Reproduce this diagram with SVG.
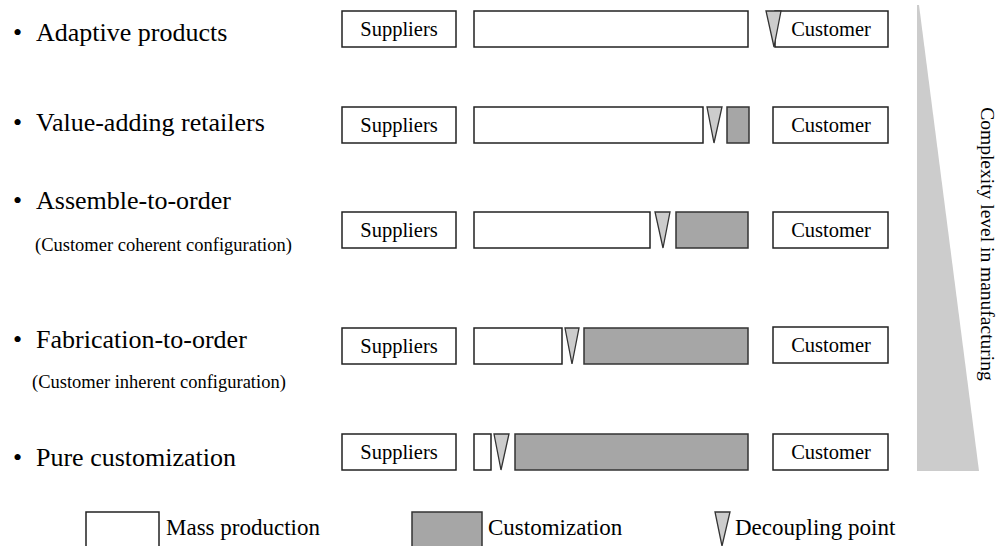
<svg xmlns="http://www.w3.org/2000/svg" width="997" height="546" viewBox="0 0 997 546">
<defs>
<style>
.t{font-family:"Liberation Serif","Times New Roman",serif;fill:#000}
.lbl{font-size:26px}
.sub{font-size:18.5px}
.box{font-size:20.5px;text-anchor:middle}
.leg{font-size:23px}
.w{fill:#fff;stroke:#222;stroke-width:1.5}
.g{fill:#a6a6a6;stroke:#333;stroke-width:1.5}
.d{fill:#cccccc;stroke:#333;stroke-width:1.3}
</style>
</defs>
<rect width="997" height="546" fill="#fff"/>
<g id="wedge">
<polygon points="917,5 919,5 979,471 917,471" fill="#cccccc"/>
<text class="t" font-size="19.5" transform="translate(981,244) rotate(90)" text-anchor="middle">Complexity level in manufacturing</text>
</g>
<g id="labels">
<text class="t lbl" x="13" y="41">•</text>
<text class="t lbl" x="36" y="41">Adaptive products</text>
<text class="t lbl" x="13" y="131">•</text>
<text class="t lbl" x="36" y="131">Value-adding retailers</text>
<text class="t lbl" x="13" y="209">•</text>
<text class="t lbl" x="36" y="209">Assemble-to-order</text>
<text class="t sub" x="35" y="251">(Customer coherent configuration)</text>
<text class="t lbl" x="13" y="348">•</text>
<text class="t lbl" x="36" y="348">Fabrication-to-order</text>
<text class="t sub" x="32" y="388">(Customer inherent configuration)</text>
<text class="t lbl" x="13" y="466">•</text>
<text class="t lbl" x="36" y="466">Pure customization</text>
</g>
<g id="row1">
<rect class="w" x="342" y="11" width="114" height="36"/>
<text class="t box" x="399" y="36">Suppliers</text>
<rect class="w" x="474" y="11" width="274" height="36"/>
<rect class="w" x="775" y="11" width="113" height="36"/>
<text class="t box" x="831" y="36">Customer</text>
<polygon class="d" points="766,11 781,11 774,47"/>
</g>
<g id="row2">
<rect class="w" x="342" y="107" width="114" height="36"/>
<text class="t box" x="399" y="132">Suppliers</text>
<rect class="w" x="474" y="107" width="229" height="36"/>
<polygon class="d" points="707,107 722,107 714,143"/>
<rect class="g" x="727" y="107" width="22" height="36"/>
<rect class="w" x="773" y="107" width="115" height="36"/>
<text class="t box" x="831" y="132">Customer</text>
</g>
<g id="row3">
<rect class="w" x="342" y="212" width="114" height="36"/>
<text class="t box" x="399" y="237">Suppliers</text>
<rect class="w" x="474" y="212" width="176" height="36"/>
<polygon class="d" points="655,212 670,212 663,248"/>
<rect class="g" x="676" y="212" width="72" height="36"/>
<rect class="w" x="773" y="212" width="115" height="36"/>
<text class="t box" x="831" y="237">Customer</text>
</g>
<g id="row4">
<rect class="w" x="342" y="328" width="114" height="36"/>
<text class="t box" x="399" y="353">Suppliers</text>
<rect class="w" x="474" y="328" width="88" height="36"/>
<polygon class="d" points="565,328 579,328 572,364"/>
<rect class="g" x="584" y="328" width="164" height="36"/>
<rect class="w" x="773" y="327" width="115" height="36"/>
<text class="t box" x="831" y="352">Customer</text>
</g>
<g id="row5">
<rect class="w" x="342" y="434" width="114" height="36"/>
<text class="t box" x="399" y="459">Suppliers</text>
<rect class="w" x="474" y="434" width="17" height="36"/>
<polygon class="d" points="494,434 509,434 501,470"/>
<rect class="g" x="515" y="434" width="233" height="36"/>
<rect class="w" x="773" y="434" width="115" height="36"/>
<text class="t box" x="831" y="459">Customer</text>
</g>
<g id="legend">
<rect class="w" x="86" y="512" width="73" height="40"/>
<text class="t leg" x="166" y="535">Mass production</text>
<rect class="g" x="412" y="512" width="70" height="40"/>
<text class="t leg" x="488" y="535">Customization</text>
<polygon class="d" points="715,512 730,512 722,546"/>
<text class="t leg" x="735" y="535">Decoupling point</text>
</g>
</svg>
